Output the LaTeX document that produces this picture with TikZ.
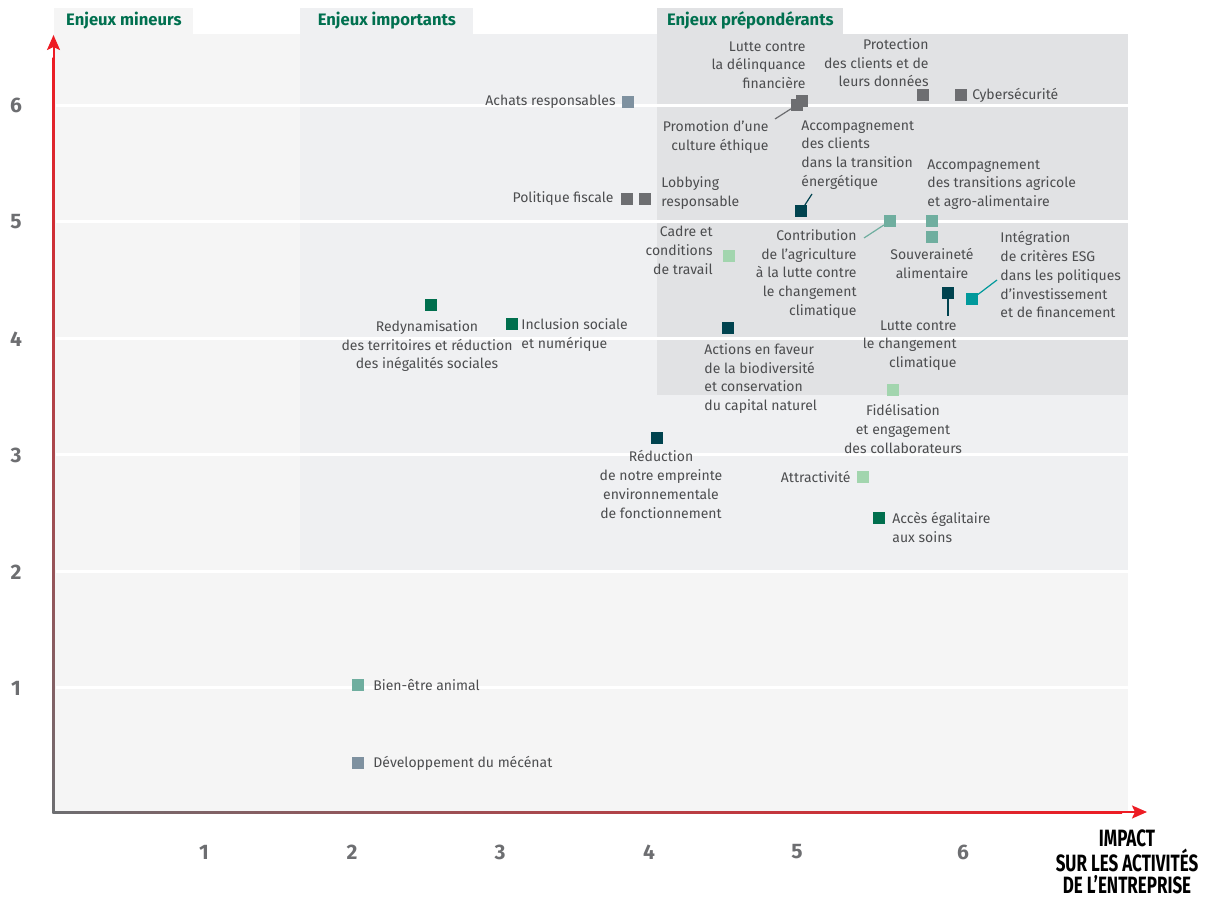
\documentclass[tikz,border=0pt]{standalone}
\usepackage{fontspec}
\setmainfont{Fira Sans}
\newfontfamily\condfont[FakeStretch=0.72]{Fira Sans}
\usepackage{tikz}
\usetikzlibrary{arrows.meta,positioning}
\definecolor{zoneA}{HTML}{F5F5F5}
\definecolor{zoneB}{HTML}{EFF0F2}
\definecolor{zoneC}{HTML}{E1E2E4}
\definecolor{txtgray}{HTML}{4C4D4F}
\definecolor{axisgray}{HTML}{6D6E71}
\definecolor{axisred}{HTML}{ED1C24}
\definecolor{titlegreen}{HTML}{00704F}
\definecolor{slate}{HTML}{7E91A0}
\definecolor{midgray}{HTML}{6D6E71}
\definecolor{darkteal}{HTML}{00434F}
\definecolor{tealight}{HTML}{6FAE9F}
\definecolor{lightgreen}{HTML}{A2D5AE}
\definecolor{green}{HTML}{006F4E}
\definecolor{teal}{HTML}{00999B}
\newcommand{\mksize}{6pt}
\newcommand{\lblfont}{\fontsize{7}{9.4}\selectfont}

\begin{document}
\begin{tikzpicture}[x=0.5pt,y=-0.5pt]
            %\draw[help lines] (0,0) grid[step=100] (1216,897);
            \tikzset{
                mk/.style={fill=#1, minimum size=\mksize, inner sep=0pt, outer sep=0pt},
                lbl/.style={text=txtgray, font=\lblfont, inner sep=0pt},
                tab/.style={fill=#1, text=titlegreen, font=\fontsize{8.3}{9}\selectfont\bfseries, anchor=south west, minimum height=13pt, inner sep=0pt},
                conn/.style={draw=#1, line width=0.6pt},
                tick/.style={text=axisgray, font=\fontsize{10.5}{12}\selectfont\bfseries}
            }
            \useasboundingbox (0,0) rectangle (1216,897);
            % zones
            \fill[zoneA] (53,34) rectangle (1128,812);
            \fill[zoneB] (300,34) rectangle (1128,571);
            \fill[zoneC] (657,34) rectangle (1128,395);
            \node[tab=zoneA, minimum width=69.5pt] (tMineurs) at (54,34) {Enjeux mineurs};
            \node[tab=zoneB, minimum width=86.5pt] (tImportants) at (300,34) {Enjeux importants};
            \node[tab=zoneC, minimum width=93pt] (tPreponderants) at (657,34) {Enjeux prépondérants};
            \foreach \gy in {105.5,222,339,455,572,688} {
                \draw[white, line width=1.5pt] (56,\gy) -- (1128,\gy);
            }
            % axes
            \shade[bottom color=axisgray, middle color=axisgray!55!axisred, top color=axisred] (52.5,813) rectangle (54.5,58);
            \draw[axisred, line width=1pt, -{Stealth[length=7.5pt,width=6.5pt,inset=1.5pt]}] (53.5,62) -- (53.5,35);
            \shade[left color=axisgray, middle color=axisgray!80!axisred, right color=axisred] (52.5,811) rectangle (1122,813);
            \draw[axisred, line width=1pt, -{Stealth[length=7.5pt,width=6.5pt,inset=1.5pt]}] (1118,812) -- (1147,812);
            \foreach \v/\gy in {6/105.5,5/222,4/339,3/455,2/572,1/688} {
                \node[tick] (y\v) at (16,\gy) {\v};
            }
            \foreach \v/\gx in {1/204,2/352,3/500,4/649,5/797,6/963} {
                \node[tick] (x\v) at (\gx,852) {\v};
            }
            \node[font=\condfont\fontsize{11.8}{11}\selectfont\bfseries, align=center, inner sep=0pt] (impact) at (1127,862) {IMPACT\\SUR LES ACTIVITÉS\\DE L’ENTREPRISE};
            % markers
            \foreach \n/\px/\py/\c in {mAchats/628/102/slate, mPromo/797/105/midgray, mDelinq/802/101/midgray,
                    mProtect/923/95/midgray, mCyber/961/95/midgray, mFiscal/627/199/midgray, mLobby/645/199/midgray,
                    mTransEn/801/211/darkteal, mContrib/890/221/tealight, mAgri/932/221/tealight, mSouv/932/237/tealight,
                    mCadre/729/256/lightgreen, mClimat/948/293/darkteal, mESG/972/299/teal, mBiodiv/728/328/darkteal,
                    mFidel/893/390/lightgreen, mRedyn/431/305/green, mInclus/512/324/green, mReduc/657/438/darkteal,
                    mAttract/863/477/lightgreen, mAcces/879/518/green, mAnimal/358/685/tealight, mMecenat/358/763/slate} {
                \node[mk=\c] (\n) at (\px,\py) {};
            }
            % connectors
            \coordinate (cPromo) at (775,119);
            \coordinate (cTransEn) at (812,194);
            \coordinate (cContrib) at (864,238);
            \coordinate (cESG) at (997,280);
            \coordinate (cClimat) at (948,316);
            \draw[conn=midgray] (mPromo) -- (cPromo);
            \draw[conn=darkteal] (mTransEn) -- (cTransEn);
            \draw[conn=tealight] (mContrib) -- (cContrib);
            \draw[conn=teal] (mESG) -- (cESG);
            \draw[conn=darkteal] (mClimat) -- (cClimat);
            % labels
            \node[lbl, left=3pt of mAchats] (lAchats) {Achats responsables};
            \node[lbl, align=right, anchor=north east] (lDelinq) at (806,41) {Lutte contre\\la délinquance\\financière};
            \node[lbl, align=right, anchor=north east] (lProtect) at (929,38) {Protection\\des clients et de\\leurs données};
            \node[lbl, right=2.5pt of mCyber] (lCyber) {Cybersécurité};
            \node[lbl, align=right, anchor=north east] (lPromo) at (769,120) {Promotion d’une\\culture éthique};
            \node[lbl, left=3.5pt of mFiscal] (lFiscal) {Politique fiscale};
            \node[lbl, align=left, anchor=north west] (lLobby) at (661,176) {Lobbying\\responsable};
            \node[lbl, align=left, anchor=north west] (lTransEn) at (801,120) {Accompagnement\\des clients\\dans la transition\\énergétique};
            \node[lbl, align=left, anchor=north west] (lAgri) at (927,159) {Accompagnement\\des transitions agricole\\et agro-alimentaire};
            \node[lbl, align=right, anchor=north east] (lContrib) at (857,229) {Contribution\\de l’agriculture\\à la lutte contre\\le changement\\climatique};
            \node[lbl, align=center, anchor=north] (lSouv) at (932,248) {Souveraineté\\alimentaire};
            \node[lbl, align=right, anchor=north east] (lCadre) at (713,226) {Cadre et\\conditions\\de travail};
            \node[lbl, align=left, anchor=north west] (lESG) at (1000,231) {Intégration\\de critères ESG\\dans les politiques\\d’investissement\\et de financement};
            \node[lbl, align=right, anchor=north east] (lClimat) at (957,320) {Lutte contre\\le changement\\climatique};
            \node[lbl, align=left, anchor=north west] (lBiodiv) at (704,343) {Actions en faveur\\de la biodiversité\\et conservation\\du capital naturel};
            \node[lbl, align=center, anchor=north] (lFidel) at (903,404) {Fidélisation\\et engagement\\des collaborateurs};
            \node[lbl, align=center, anchor=north] (lRedyn) at (427,320) {Redynamisation\\des territoires et réduction\\des inégalités sociales};
            \node[lbl, align=left, anchor=north west] (lInclus) at (521,318) {Inclusion sociale\\et numérique};
            \node[lbl, align=center, anchor=north] (lReduc) at (661,450) {Réduction\\de notre empreinte\\environnementale\\de fonctionnement};
            \node[lbl, left=3pt of mAttract] (lAttract) {Attractivité};
            \node[lbl, align=left, anchor=north west] (lAcces) at (892,512) {Accès égalitaire\\aux soins};
            \node[lbl, right=4.5pt of mAnimal] (lAnimal) {Bien-être animal};
            \node[lbl, right=4.5pt of mMecenat] (lMecenat) {Développement du mécénat};
    \end{tikzpicture}
\end{document}
